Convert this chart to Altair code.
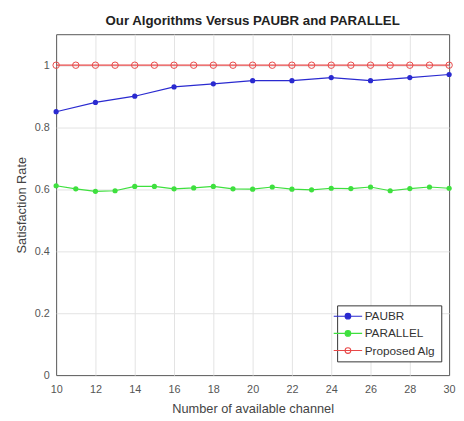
import altair as alt
import pandas as pd

channels = list(range(10, 31))
paubr_x = list(range(10, 31, 2))
paubr_y = [0.85, 0.88, 0.90, 0.93, 0.94, 0.95, 0.95, 0.96, 0.95, 0.96, 0.97]
parallel_y = [0.611, 0.601, 0.593, 0.595, 0.609, 0.609, 0.601, 0.604, 0.609, 0.601, 0.600,
              0.607, 0.600, 0.598, 0.603, 0.602, 0.607, 0.595, 0.602, 0.607, 0.603]
proposed_y = [1.0] * 21
series_names = ["PAUBR", "PARALLEL", "Proposed Alg"]
series_colors = ["#2a2ad0", "#3ee03e", "#e84848"]
series_fills = ["#2a2ad0", "#3ee03e", "#ffffff"]
x_ticks = list(range(10, 31, 2))
y_ticks = [0, 0.2, 0.4, 0.6, 0.8, 1.0]

rows = []
for x, y in zip(paubr_x, paubr_y):
    rows.append({"ch": x, "rate": y, "series": "PAUBR"})
for x, y in zip(channels, parallel_y):
    rows.append({"ch": x, "rate": y, "series": "PARALLEL"})
for x, y in zip(channels, proposed_y):
    rows.append({"ch": x, "rate": y, "series": "Proposed Alg"})
df = pd.DataFrame(rows)

font = "Liberation Sans"
common = dict(grid=True, gridColor="#e2e2e2", ticks=False, domain=False,
              labelFontSize=11, labelColor="#555", labelFont=font,
              titleFontSize=13, titleFont=font, titleColor="#444", titleFontWeight="normal",
              labelOverlap=False, labelFlush=False)
xaxis = alt.Axis(values=x_ticks, title="Number of available channel",
                 gridOpacity={"condition": {"test": "datum.value == 10 || datum.value == 30", "value": 0}, "value": 1},
                 labelPadding=9, titlePadding=8, **common)
yaxis = alt.Axis(values=y_ticks, format="~g", title="Satisfaction Rate",
                 gridOpacity={"condition": {"test": "datum.value == 0", "value": 0}, "value": 1},
                 labelPadding=7, titlePadding=6, **common)
xenc = alt.X("ch:Q", scale=alt.Scale(domain=[10, 30], nice=False), axis=xaxis)
yenc = alt.Y("rate:Q", scale=alt.Scale(domain=[0, 1.1], nice=False), axis=yaxis)
stroke_scale = alt.Scale(domain=series_names, range=series_colors)
fill_scale = alt.Scale(domain=series_names, range=series_fills)

sym = "M-3,0H3M0.6,0A0.6,0.6,0,1,1,-0.6,0A0.6,0.6,0,1,1,0.6,0"
leg = alt.Legend(title=None, orient="none", legendX=286, legendY=276,
                 symbolType=sym, symbolSize=93, symbolStrokeWidth=1.1, labelOffset=11,
                 labelFontSize=12, labelFont=font, labelColor="#333", symbolOpacity=1,
                 strokeColor="#333", fillColor="white", padding=5, rowPadding=5.5)

base = alt.Chart(df)
lines = base.mark_line(strokeWidth=1.2, fillOpacity=0).encode(
    x=xenc, y=yenc,
    stroke=alt.Stroke("series:N", scale=stroke_scale, sort=series_names, legend=leg),
    fill=alt.Fill("series:N", scale=fill_scale, sort=series_names, legend=leg),
)
filled = base.transform_filter(alt.datum.series != "Proposed Alg").mark_point(
    filled=True, size=28, opacity=1).encode(
    x=xenc, y=yenc, fill=alt.Fill("series:N", scale=fill_scale, legend=None))
opened = base.transform_filter(alt.datum.series == "Proposed Alg").mark_point(
    filled=False, size=43, strokeWidth=1, opacity=1).encode(
    x=xenc, y=yenc, stroke=alt.Stroke("series:N", scale=stroke_scale, legend=None))

chart = alt.layer(lines, filled, opened).properties(
    width=400, height=347,
    title=alt.TitleParams("Our Algorithms Versus PAUBR and PARALLEL", font=font, fontSize=13.5,
                          fontWeight="bold", color="#222", offset=7),
    autosize=alt.AutoSizeParams(type="none"),
    padding={"left": 49, "top": 23, "right": 7, "bottom": 43},
).configure(background="white").configure_view(stroke="#555", strokeWidth=1)

chart.save("out.html", embed_options={"renderer": "svg", "actions": False})
